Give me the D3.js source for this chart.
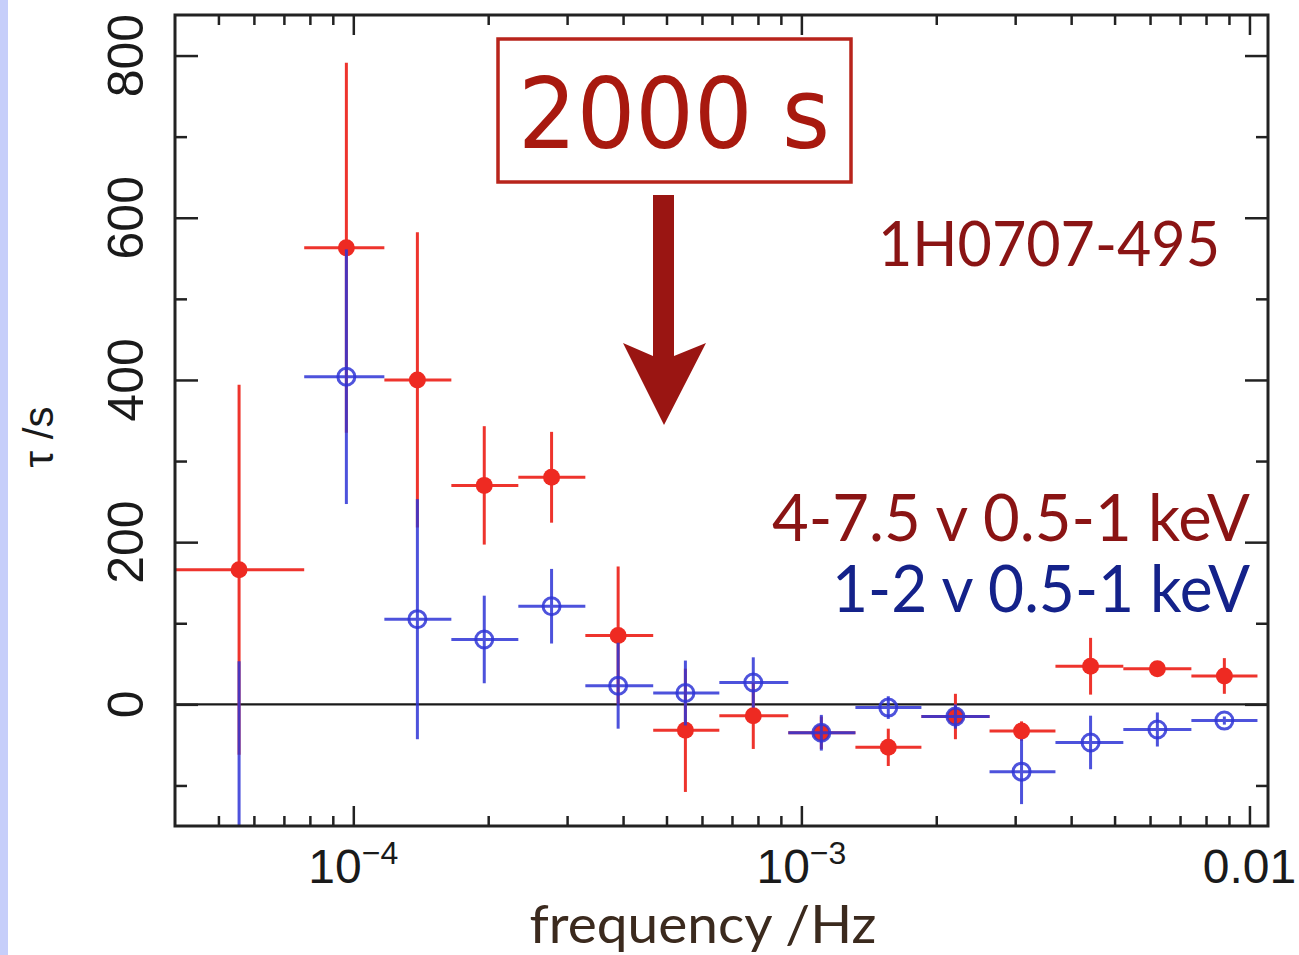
<!DOCTYPE html>
<html>
<head>
<meta charset="utf-8">
<script src="https://cdn.jsdelivr.net/npm/d3@7"></script>
<style>
  html, body { margin: 0; padding: 0; background: #ffffff; }
  svg { display: block; }
</style>
</head>
<body>
<svg id="chart" width="1299" height="955"></svg>
<script>
// Frequency bins (Hz): centre, lower and upper edge
const freq   = [5.56e-5, 9.65e-5, 1.39e-4, 1.96e-4, 2.77e-4, 3.90e-4, 5.51e-4, 7.81e-4, 1.108e-3, 1.563e-3, 2.207e-3, 3.10e-3, 4.42e-3, 6.23e-3, 8.79e-3];
const freqLo = [3.98e-5, 7.77e-5, 1.173e-4, 1.655e-4, 2.335e-4, 3.295e-4, 4.67e-4, 6.56e-4, 9.35e-4, 1.32e-3, 1.853e-3, 2.63e-3, 3.69e-3, 5.23e-3, 7.42e-3];
const freqHi = [7.77e-5, 1.173e-4, 1.655e-4, 2.335e-4, 3.295e-4, 4.67e-4, 6.56e-4, 9.35e-4, 1.32e-3, 1.853e-3, 2.63e-3, 3.69e-3, 5.23e-3, 7.42e-3, 1.042e-2];

// Lag (s) of 4-7.5 keV vs 0.5-1 keV
const hardLag = [166, 563, 400, 270, 280, 85, -32, -14, -35, -53, -15, -33, 47, 44, 35];
const hardErr = [228, 228, 182, 73, 56, 85, 76, 41, 20, 23, 28, 12, 35, 5, 22];

// Lag (s) of 1-2 keV vs 0.5-1 keV
const softLag = [-260, 404, 105, 80, 121, 23, 14, 27, -35, -4, -15, -83, -47, -31, -20];
const softErr = [313, 157, 148, 54, 46, 53, 40, 31, 22, 14, 15, 40, 33, 21, 5];

// Axis ticks
const yMajor = [0, 200, 400, 600, 800];
const yMinor = [-100, 100, 300, 500, 700];
const xMajor = [1e-4, 1e-3, 1e-2];
const xMajorLabels = [["10", "\u22124"], ["10", "\u22123"], ["0.01", ""]];
const xMinor = [5e-5, 6e-5, 7e-5, 8e-5, 9e-5,
                2e-4, 3e-4, 4e-4, 5e-4, 6e-4, 7e-4, 8e-4, 9e-4,
                2e-3, 3e-3, 4e-3, 5e-3, 6e-3, 7e-3, 8e-3, 9e-3];

const svg = d3.select("#chart");
const L = 175, R = 1268, T = 15, B = 826;

const x = d3.scaleLog().domain([4e-5, 0.011]).range([L, R]);
const y = d3.scaleLinear().domain([-150, 850]).range([B, T]);

// light side strip of the slide
svg.append("rect").attr("x", 0).attr("y", 0).attr("width", 8).attr("height", 955).attr("fill", "#c6cefa");

svg.append("defs").append("clipPath").attr("id", "plotClip")
  .append("rect").attr("x", L).attr("y", T).attr("width", R - L).attr("height", B - T);

const axisColor = "#222";
const tickFont = "'Liberation Sans', Arial, Helvetica, sans-serif";

// zero line
svg.append("line")
  .attr("x1", L).attr("x2", R).attr("y1", y(0)).attr("y2", y(0))
  .attr("stroke", "#1a1a1a").attr("stroke-width", 2.2);

// data
const plot = svg.append("g").attr("clip-path", "url(#plotClip)");
const RED = "#ee2a22", BLUE = "#2f35d6";

const rows = freq.map((f, i) => ({f, lo: freqLo[i], hi: freqHi[i],
  h: hardLag[i], he: hardErr[i], s: softLag[i], se: softErr[i]}));

function bars(g, key, errKey, color, opacity) {
  const grp = g.append("g").attr("stroke", color).attr("stroke-width", 3).attr("opacity", opacity);
  grp.selectAll("line.h").data(rows).join("line")
    .attr("x1", d => x(d.lo)).attr("x2", d => x(d.hi))
    .attr("y1", d => y(d[key])).attr("y2", d => y(d[key]));
  grp.selectAll("line.v").data(rows).join("line")
    .attr("x1", d => x(d.f)).attr("x2", d => x(d.f))
    .attr("y1", d => y(d[key] - d[errKey])).attr("y2", d => y(d[key] + d[errKey]));
}

bars(plot, "h", "he", RED, 0.95);
plot.append("g").selectAll("circle").data(rows).join("circle")
  .attr("cx", d => x(d.f)).attr("cy", d => y(d.h)).attr("r", 8.5)
  .attr("fill", RED);
bars(plot, "s", "se", BLUE, 0.85);
plot.append("g").selectAll("circle").data(rows).join("circle")
  .attr("cx", d => x(d.f)).attr("cy", d => y(d.s)).attr("r", 8.5)
  .attr("fill", "none").attr("stroke", BLUE).attr("stroke-width", 3).attr("opacity", 0.85);

// axes (ticks pointing inward on all four sides)
function styleAxis(g) {
  g.select(".domain").remove();
  g.selectAll(".tick line").attr("stroke", axisColor).attr("stroke-width", 2.5);
  g.selectAll(".tick text").remove();
}
svg.append("g").attr("transform", `translate(0,${B})`)
  .call(d3.axisBottom(x).tickValues(xMajor).tickSize(-20)).call(styleAxis);
svg.append("g").attr("transform", `translate(0,${B})`)
  .call(d3.axisBottom(x).tickValues(xMinor).tickSize(-10)).call(styleAxis);
svg.append("g").attr("transform", `translate(0,${T})`)
  .call(d3.axisTop(x).tickValues(xMajor).tickSize(-20)).call(styleAxis);
svg.append("g").attr("transform", `translate(0,${T})`)
  .call(d3.axisTop(x).tickValues(xMinor).tickSize(-10)).call(styleAxis);
svg.append("g").attr("transform", `translate(${L},0)`)
  .call(d3.axisLeft(y).tickValues(yMajor).tickSize(-23)).call(styleAxis);
svg.append("g").attr("transform", `translate(${L},0)`)
  .call(d3.axisLeft(y).tickValues(yMinor).tickSize(-12)).call(styleAxis);
svg.append("g").attr("transform", `translate(${R},0)`)
  .call(d3.axisRight(y).tickValues(yMajor).tickSize(-23)).call(styleAxis);
svg.append("g").attr("transform", `translate(${R},0)`)
  .call(d3.axisRight(y).tickValues(yMinor).tickSize(-12)).call(styleAxis);

// frame
svg.append("rect").attr("x", L).attr("y", T).attr("width", R - L).attr("height", B - T)
  .attr("fill", "none").attr("stroke", axisColor).attr("stroke-width", 3);

// y tick labels (rotated)
svg.append("g").selectAll("text").data(yMajor).join("text")
  .attr("transform", d => `translate(143,${y(d)}) rotate(-90)`)
  .attr("text-anchor", "middle")
  .attr("font-family", tickFont).attr("font-size", 50).attr("fill", "#1a1a1a")
  .text(d => d);

// x tick labels with superscript exponents
const xl = svg.append("g").selectAll("text").data(xMajor).join("text")
  .attr("x", d => x(d)).attr("y", 883)
  .attr("text-anchor", "middle")
  .attr("font-family", tickFont).attr("font-size", 48).attr("fill", "#1a1a1a");
xl.append("tspan").text((d, i) => xMajorLabels[i][0]);
xl.append("tspan").attr("dy", -19).attr("font-size", 32)
  .text((d, i) => xMajorLabels[i][1]);

// axis titles
svg.append("text")
  .attr("transform", "translate(53,437) rotate(-90)")
  .attr("text-anchor", "middle")
  .attr("font-family", tickFont).attr("font-size", 42).attr("fill", "#1a1a1a")
  .text("\u03c4 /s");

const annFont = "Lato, 'Open Sans', sans-serif";
svg.append("text")
  .attr("x", 703).attr("y", 943).attr("text-anchor", "middle")
  .attr("font-family", annFont).attr("font-size", 52).attr("fill", "#3b2a1e")
  .attr("textLength", 347).attr("lengthAdjust", "spacingAndGlyphs")
  .text("frequency /Hz");

// annotations
svg.append("text")
  .attr("x", 1220).attr("y", 266).attr("text-anchor", "end")
  .attr("font-family", annFont).attr("font-size", 62).attr("fill", "#8a1414")
  .attr("textLength", 342).attr("lengthAdjust", "spacingAndGlyphs")
  .text("1H0707-495");

svg.append("text")
  .attr("x", 1250).attr("y", 541).attr("text-anchor", "end")
  .attr("font-family", annFont).attr("font-size", 66).attr("fill", "#8a1414")
  .attr("textLength", 478).attr("lengthAdjust", "spacingAndGlyphs")
  .text("4-7.5 v 0.5-1 keV");

svg.append("text")
  .attr("x", 1250).attr("y", 612).attr("text-anchor", "end")
  .attr("font-family", annFont).attr("font-size", 66).attr("fill", "#14228a")
  .attr("textLength", 418).attr("lengthAdjust", "spacingAndGlyphs")
  .text("1-2 v 0.5-1 keV");

// boxed timescale label and arrow
svg.append("rect").attr("x", 498).attr("y", 39).attr("width", 353).attr("height", 143)
  .attr("fill", "#ffffff").attr("stroke", "#b8241b").attr("stroke-width", 3.5);
svg.append("text")
  .attr("x", 674).attr("y", 148).attr("text-anchor", "middle")
  .attr("font-family", "'DejaVu Sans', sans-serif").attr("font-size", 98).attr("fill", "#a8190f")
  .attr("textLength", 312).attr("lengthAdjust", "spacingAndGlyphs")
  .text("2000 s");

const arrow = d3.path();
arrow.moveTo(653, 195);
arrow.lineTo(674, 195);
arrow.lineTo(674, 356);
arrow.lineTo(706, 343);
arrow.lineTo(664, 425);
arrow.lineTo(623, 343);
arrow.lineTo(653, 356);
arrow.closePath();
svg.append("path").attr("d", arrow.toString()).attr("fill", "#9a1512");
</script>
</body>
</html>
